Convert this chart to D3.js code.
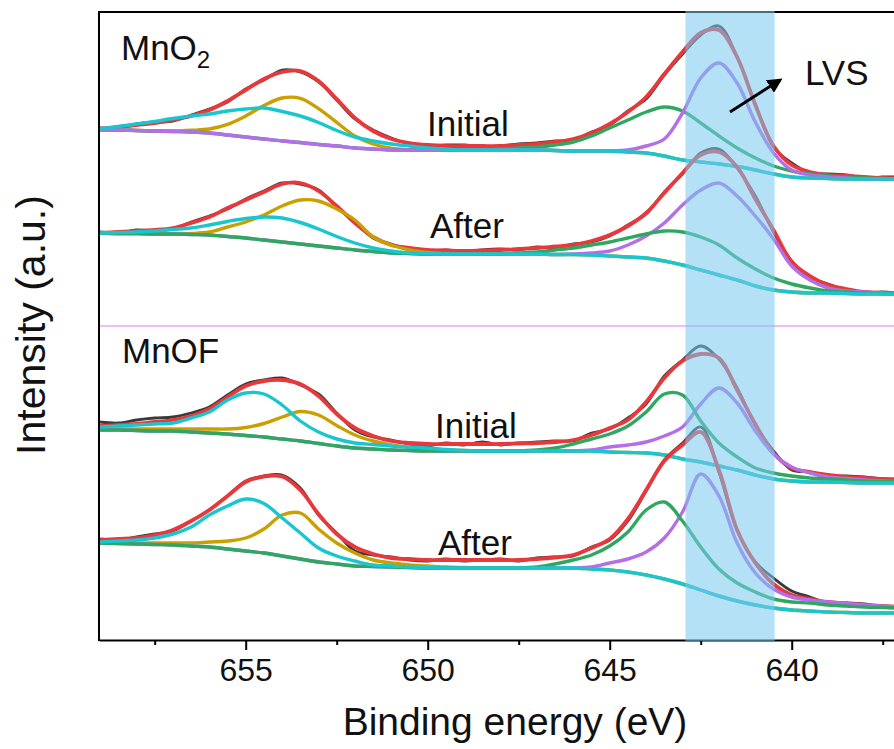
<!DOCTYPE html>
<html><head><meta charset="utf-8">
<script src="https://cdn.jsdelivr.net/npm/d3@7"></script>
<style>body{margin:0;background:#fff;} text{font-family:"Liberation Sans", Arial, sans-serif;fill:#111;}</style>
</head><body><svg id="c" width="894" height="749"></svg>
<script>
// Binding energy grid (eV), 659 -> 637 in 0.5 eV steps
const energy = [659,658.5,658,657.5,657,656.5,656,655.5,655,654.5,654,653.5,653,652.5,652,651.5,651,650.5,650,649.5,649,648.5,648,647.5,647,646.5,646,645.5,645,644.5,644,643.5,643,642.5,642,641.5,641,640.5,640,639.5,639,638.5,638,637.5,637];

// MnO2 - Initial (intensity, a.u.)
const mno2InitRaw    = [512,512,516,518,519,525,531,538,551,560,570,568,558,540,521,510,502,496,494,495,495,493,494,496,497,499,500,508,515,529,541,565,586,605,614,583,536,493,477,467,466,465,462,463,463];
const mno2InitFit    = [511,513,515,517,520,524,530,539,550,561,568,569,559,541,522,509,501,497,495,494,494,494,494,495,496,498,501,507,516,528,543,566,588,607,610,583,535,494,475,468,465,464,463,462,462];
const mno2InitGold   = [510,510,509.5,509,509,509.7,511,515.6,524,534.4,542,541.7,531.4,517.6,504,496,491.7,490.3,490,490,490,490,490,490,490,489.5,489,489,489,488,487,484,480,478,476,473.5,470,466,463,462,461.5,461,461,461,461];
const mno2InitCyan   = [511,513.5,516,518.5,521.5,524,526,529,531,532,528.5,524,517.5,509.5,503,499,496,494,492,491,490,490,490,490,490,489.5,489,489,489,488,487,484,480,478,476,473.5,470,466,463,462,461.5,461,461,461,461];
const mno2InitGreen  = [510,510,509.5,509,508.5,508,507,505,503,501,499,497.5,495.5,494,492,491,490,490,490,490,490,490.5,491,492,493,495,498,504,512,520,528,533,529,517,504,492,482,474,469,466,464,463,462,461.5,461];
const mno2InitPurple = [510,510,509.5,509,508.5,508,507,505,503,501,499,497.5,495.5,494,492,491,490,490,490,490,490,490,490,490,490,489.5,489,489,489,490,494,501,527,562,577,557,518,487,470,465,463,462,461,461,461];

// MnO2 - After
const mno2AftRaw    = [408,407,410,409,411,418,424,431,441,449,457,456,450,433,418,402,396,391,389,390,388,390,391,390,393,392,396,398,404,415,426,448,466,487,491,472,444,408,379,363,356,350,347,348,346];
const mno2AftFit    = [407,408,409,410,412,417,423,432,440,448,456,457,449,434,417,403,395,392,390,389.5,389,389.5,390,391,392,393.5,395,399,405,414,427,447,467,485,488,473,441,410,378,364,355,351,348,347,347];
const mno2AftGold   = [407,406.5,406.5,406,406,406.5,408,413,418,425,434,440,439,431,420,403,395,390,387.5,386.5,386,386,386,386,386,385.5,385.5,385,384,383,382,379,375,370,365,360,354,350,348,347,347,346.5,346,346,346];
const mno2AftCyan   = [407,407.5,408,409,410.5,412,415,418.5,421.5,423,422,417.5,411,403.5,397,392,389,387,386.5,386,386,386,386,386,386,385.5,385.5,385,384,383,382,379,375,370,365,360,354,350,348,347,347,346.5,346,346,346];
const mno2AftGreen  = [407,406.5,406.5,406,406,405.5,405,403.5,402,400,398,396,394,392,390,388.5,387,386.5,386,386,386,386,386,387,388,390,392,395,398,402,406,409,408,403,395,382,371,362,356,352,349,348,347,346.5,346];
const mno2AftPurple = [407,406.5,406.5,406,406,405.5,405,403.5,402,400,398,396,394,392,390,388.5,387,386.5,386,386,386,386,386,386,386,385.5,386,387,389,395,404,417,435,450,457,444,424,401,374,360,352,349,348,347,346.5];

// MnOF - Initial
const mnofInitRaw    = [218,217,220,222,223,227,233,245,256,260,262,255,246,227,210,203,200,196,194,197,195,198,195,197,198,199,199,207,211,222,236,264,280,294,281,252,215,189,170,168,164,164,163,161,160];
const mnofInitFit    = [214,215,216,218,220,224,231,243,254,259,260,256,244,226,212,204,199,197,196,196,196,196,196,196.5,197,198,200,205,212,220,238,262,279,286,282,250,216,187,172,168,165,163,162,161,161];
const mnofInitGold   = [211,211,211,211,211,211,211,211,212.5,216.5,223,228.5,225,214.5,205,199,195,192.5,191,190,189.5,189,189,189,189,189,189,189,188,187.5,187,185,181,178,174,170,165,161,159,158,158,157.5,157,157,157];
const mnofInitCyan   = [213,214,215,216,217,222,228,240,247,246,235,219,208,201,197,195.5,194,193,192,190.5,189.5,189,189,189,189,189,189,189,188,187.5,187,185,181,178,174,170,165,161,159,158,158,157.5,157,157,157];
const mnofInitGreen  = [210,210,209.5,209,209,208,207,206,204.5,203,201,199,196.5,194,192,191,190,189.5,189,189,189,189,189,189,190,192,196,201,206,214,228,246,245,219,197,183,172,167,164,162,161,160,159,158.5,158];
const mnofInitPurple = [210,210,209.5,209,209,208,207,206,204.5,203,201,199,196.5,194,192,191,190,189.5,189,189,189,189,189,189,189,189,189,190,193,195,198,204,213,236,252,237,209,186,173,167,163,161.5,160,159,158.5];

// MnOF - After
const mnofAftRaw    = [101,100,103,106,109,119,130,144,159,164,165,152,125,107,89,85,83,80,79,81,79,80,81,79,82,83,84,93,100,119,149,180,197,213,168,110,78,62,49,43,37,37,36,33,32];
const mnofAftFit    = [100,101,102,105,110,119,130,144,158,163.5,163.5,150,126,106,93,86,82,81,80,80,80,80,80,80,81,82.5,85,92,101,121,150,179,195,208,170,110,77,56,45,41,38,36.5,35,34,33];
const mnofAftGold   = [97,97,97,97,97,97,98,99,102,111,125,127,111,97,87,80,77,75,74,73,72.5,72,72,72,72,72,72,71,70,68,65,61,56,50,44,39,35,32,30,29,28,27.5,27,27,27];
const mnofAftCyan   = [98,99,100,102,106,113,125,134,141,136.5,122,107,92,84,79,75,74,73,72.5,72,72,72,72,72,72,72,72,71,70,68,65,61,56,50,44,39,35,32,30,29,28,27.5,27,27,27];
const mnofAftGreen  = [97,96.5,96,95.5,95,94,93,91,89,87,84,81,78,76,74,73.5,73,72.5,72,72,72,72,72,72,73,76,80,85,94,108,130,138,119,93,71,57,48,41,38,37,35,34,33,32.5,32];
const mnofAftPurple = [97,96.5,96,95.5,95,94,93,91,89,87,84,81,78,76,74,73.5,73,72.5,72,72,72,72,72,72,72,72,72,73,77,81,88,102,128,166,144,97,67,51,43,40,38,36.5,35,34,33];

const majorTicks = [655,650,645,640];
const minorTicks = [657.5,652.5,647.5,642.5,637.5];
const lvsRange = [642.92, 640.47];
const separatorLevel = 314;

const colors = {raw:"#3a3a3a", fit:"#e8383c", gold:"#c9a000", cyan:"#18c6d0", green:"#2ea860", purple:"#b46ee8"};

const spectra = [
  {raw:mno2InitRaw, fit:mno2InitFit, comps:{gold:mno2InitGold, green:mno2InitGreen, purple:mno2InitPurple, cyan:mno2InitCyan}},
  {raw:mno2AftRaw,  fit:mno2AftFit,  comps:{gold:mno2AftGold, purple:mno2AftPurple, green:mno2AftGreen, cyan:mno2AftCyan}},
  {raw:mnofInitRaw, fit:mnofInitFit, comps:{gold:mnofInitGold, purple:mnofInitPurple, green:mnofInitGreen, cyan:mnofInitCyan}},
  {raw:mnofAftRaw,  fit:mnofAftFit,  comps:{gold:mnofAftGold, purple:mnofAftPurple, green:mnofAftGreen, cyan:mnofAftCyan}}
];

const svg = d3.select("#c");
const L = 99, R = 894, T = 12, B = 640;
const x = d3.scaleLinear().domain([659.03, 637.19]).range([L, R]);
const y = d3.scaleLinear().domain([0, 628]).range([B, T]);

svg.append("defs").append("clipPath").attr("id","clip")
  .append("rect").attr("x",L).attr("y",T).attr("width",R-L).attr("height",B-T);

const g = svg.append("g").attr("clip-path","url(#clip)");

const smooth = d3.line().x((d,i)=>x(energy[i])).y(d=>y(d)).curve(d3.curveCatmullRom.alpha(0.5));

// separator
g.append("line").attr("x1",L).attr("x2",R).attr("y1",y(separatorLevel)).attr("y2",y(separatorLevel))
  .attr("stroke","#e47cf0").attr("stroke-width",1.2);

spectra.forEach(s=>{
  g.append("path").attr("d",smooth(s.raw)).attr("fill","none").attr("stroke",colors.raw).attr("stroke-width",2.8).attr("stroke-linejoin","round");
  g.append("path").attr("d",smooth(s.fit)).attr("fill","none").attr("stroke",colors.fit).attr("stroke-width",3.8);
  Object.entries(s.comps).forEach(([k,arr])=>{
    g.append("path").attr("d",smooth(arr)).attr("fill","none").attr("stroke",colors[k]).attr("stroke-width",3.4);
  });
});

// axes frame
svg.append("line").attr("x1",L).attr("x2",L).attr("y1",T-1).attr("y2",B+1).attr("stroke","#000").attr("stroke-width",2);
svg.append("line").attr("x1",L-1).attr("x2",R).attr("y1",T).attr("y2",T).attr("stroke","#000").attr("stroke-width",2);

const xAxis = svg.append("g").attr("transform",`translate(0,${B})`)
  .call(d3.axisBottom(x).tickValues(majorTicks).tickSize(10).tickSizeOuter(0).tickPadding(8).tickFormat(d3.format("d")));
xAxis.select(".domain").attr("stroke","#000").attr("stroke-width",2);
xAxis.selectAll(".tick line").attr("stroke","#000").attr("stroke-width",2);
xAxis.selectAll(".tick text").style("font-size","32px").style("font-family","'Liberation Sans', Arial, sans-serif").attr("fill","#111");

const xMinor = svg.append("g").attr("transform",`translate(0,${B})`)
  .call(d3.axisBottom(x).tickValues(minorTicks).tickSize(5).tickSizeOuter(0).tickFormat(""));
xMinor.select(".domain").remove();
xMinor.selectAll(".tick line").attr("stroke","#000").attr("stroke-width",2);

// LVS band
svg.append("rect").attr("x",x(lvsRange[0])).attr("y",T-1).attr("width",x(lvsRange[1])-x(lvsRange[0])).attr("height",B-T+2)
  .attr("fill","rgb(120,200,240)").attr("opacity",0.55);

// titles
svg.append("text").attr("x",515).attr("y",735).attr("text-anchor","middle").style("font-size","39px").text("Binding energy (eV)");
svg.append("text").attr("transform","translate(45,325) rotate(-90)").attr("text-anchor","middle").style("font-size","41px").text("Intensity (a.u.)");

// labels
const lab = (tx,ty,s)=>svg.append("text").attr("x",tx).attr("y",ty).style("font-size","35px").text(s);
const m = svg.append("text").attr("x",121).attr("y",60).style("font-size","35px");
m.append("tspan").text("MnO");
m.append("tspan").attr("dy",8).style("font-size","24px").text("2");
lab(427,136,"Initial");
lab(430,238,"After");
lab(122,363,"MnOF");
lab(435,438,"Initial");
lab(438,555,"After");
lab(805,85,"LVS");

// arrow
svg.append("defs").append("marker").attr("id","ah").attr("viewBox","0 0 10 10").attr("refX",8).attr("refY",5)
  .attr("markerWidth",5).attr("markerHeight",5).attr("orient","auto")
  .append("path").attr("d","M0,0 L10,5 L0,10 z").attr("fill","#000");
svg.append("line").attr("x1",730).attr("y1",112).attr("x2",780).attr("y2",80)
  .attr("stroke","#000").attr("stroke-width",3).attr("marker-end","url(#ah)");
</script></body></html>
